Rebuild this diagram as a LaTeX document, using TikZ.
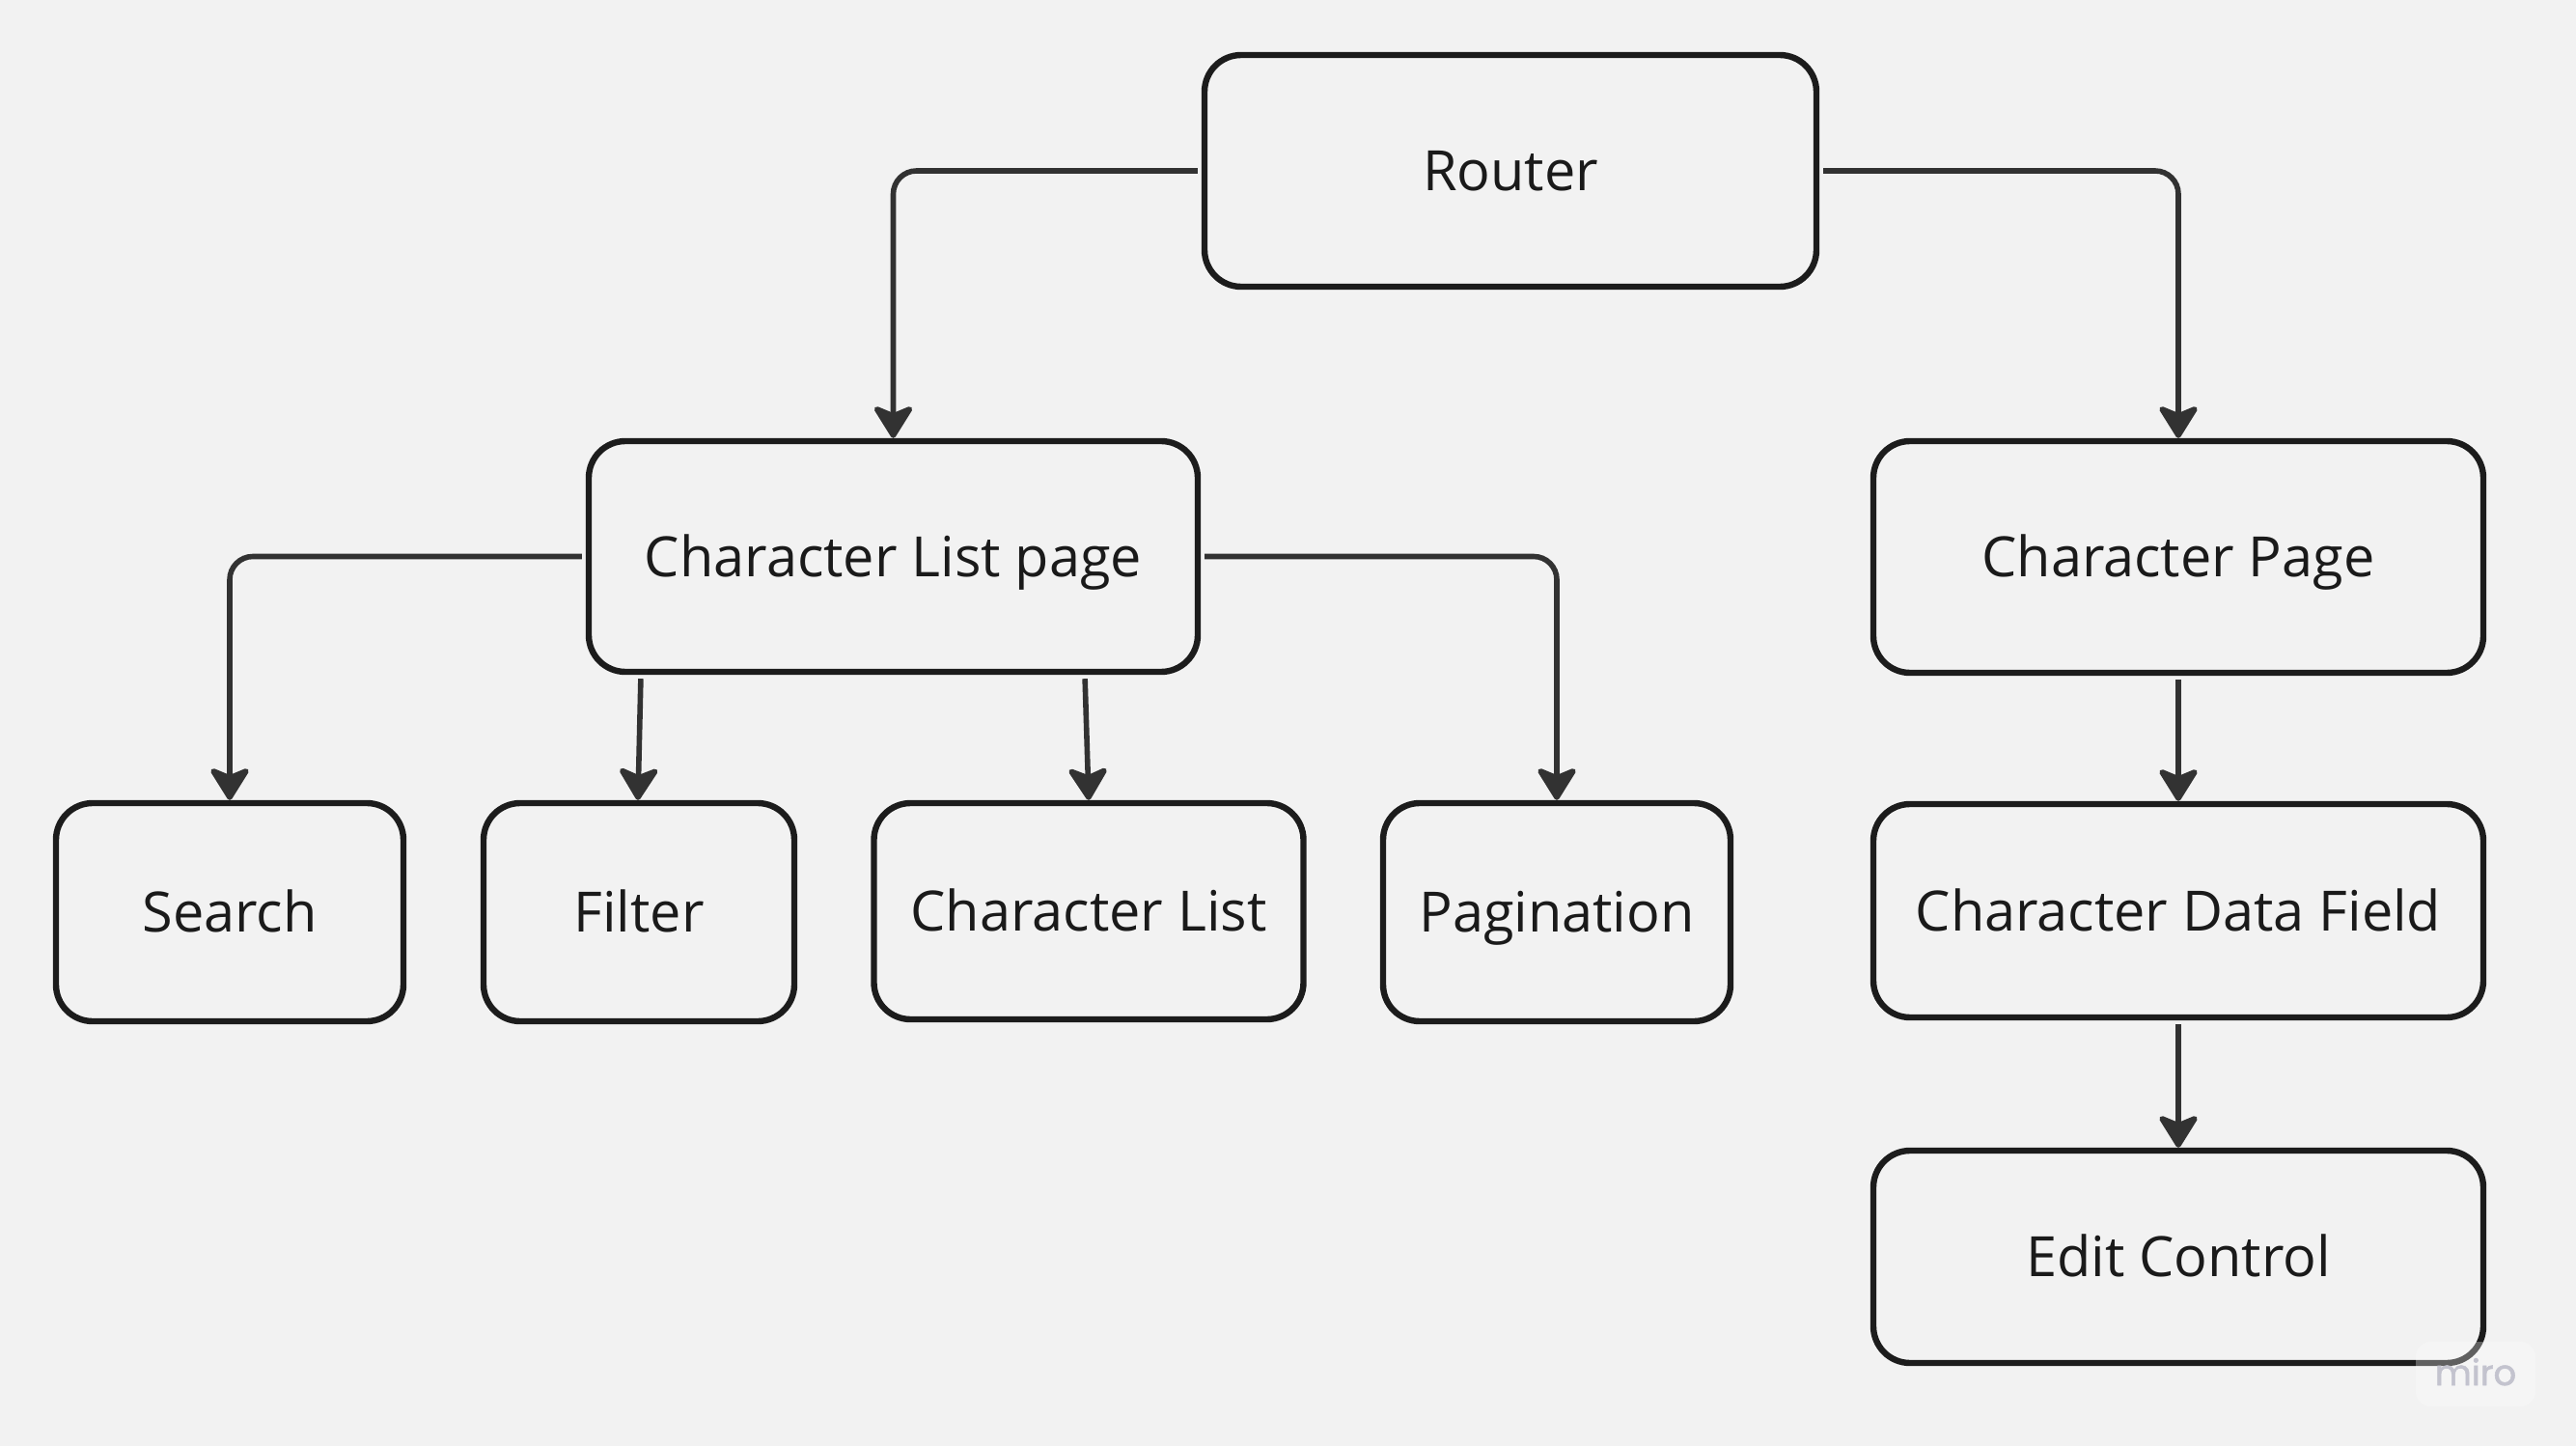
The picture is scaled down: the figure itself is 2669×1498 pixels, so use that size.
\documentclass[tikz,border=0pt]{standalone}
\usepackage{fontspec}
\setmainfont{Open Sans}
\newfontfamily\mirofont{Poppins}[FakeBold=1.5]
\usetikzlibrary{arrows.meta,calc}
\definecolor{bg}{HTML}{F2F2F2}
\definecolor{boxline}{HTML}{1C1C1C}
\definecolor{connline}{HTML}{323232}
\definecolor{txt}{HTML}{1A1A1A}
\definecolor{wm}{HTML}{C3C3CE}
\begin{document}
\begin{tikzpicture}[x=0.25pt,y=-0.25pt,
  box/.style={draw=boxline, line width=1.6pt, rounded corners=9.5pt, inner sep=0pt,
    text=txt, font=\fontsize{14.4pt}{17pt}\selectfont, text height=10.3pt, text depth=0pt, align=center},
  conn/.style={draw=connline, line width=1.4pt, rounded corners=6pt, shorten <=1pt,
    -{Stealth[length=9.5pt,width=11.75pt,inset=2.4pt,round]}}]
\fill[bg] (0,0) rectangle (2669,1498);
\useasboundingbox (0,0) rectangle (2669,1498);

\node[box, minimum width=158.5pt, minimum height=60pt] (router) at (1565,177) {Router};
\node[box, minimum width=157.75pt, minimum height=59.75pt] (clp) at (925.5,576.5) {Character List page};
\node[box, minimum width=158pt, minimum height=60pt] (cp) at (2257,577) {Character Page};
\node[box, minimum width=90pt, minimum height=56.5pt] (search) at (238,945) {Search};
\node[box, minimum width=80.5pt, minimum height=56.5pt] (filter) at (662,945) {Filter};
\node[box, minimum width=111.25pt, minimum height=56pt] (cl) at (1128,944) {Character List};
\node[box, minimum width=90pt, minimum height=56.5pt] (pag) at (1613,945) {Pagination};
\node[box, minimum width=158pt, minimum height=55.25pt] (cdf) at (2257,943.5) {Character Data Field};
\node[box, minimum width=158pt, minimum height=55pt] (ec) at (2257,1302) {Edit Control};

\draw[conn] (router.west) -| (clp.north);
\draw[conn] (router.east) -| (cp.north);
\draw[conn] (clp.west) -| (search.north);
\draw[conn] (clp.east) -| (pag.north);
\draw[conn] ($(clp.south -| filter.north)+(2,0)$) -- ($(filter.north)+(-1,0)$);
\draw[conn] ($(clp.south -| cl.north)+(-4,0)$) -- (cl.north);
\draw[conn] (cp.south) -- (cdf.north);
\draw[conn] (cdf.south) -- (ec.north);

\fill[white, opacity=0.3, rounded corners=4pt] (2503,1390) rectangle (2627,1457);
\node[font=\mirofont\fontsize{9.2pt}{10pt}\selectfont, text=wm, anchor=base, inner sep=0pt] (miro) at (2565,1435) {miro};
\end{tikzpicture}
\end{document}
